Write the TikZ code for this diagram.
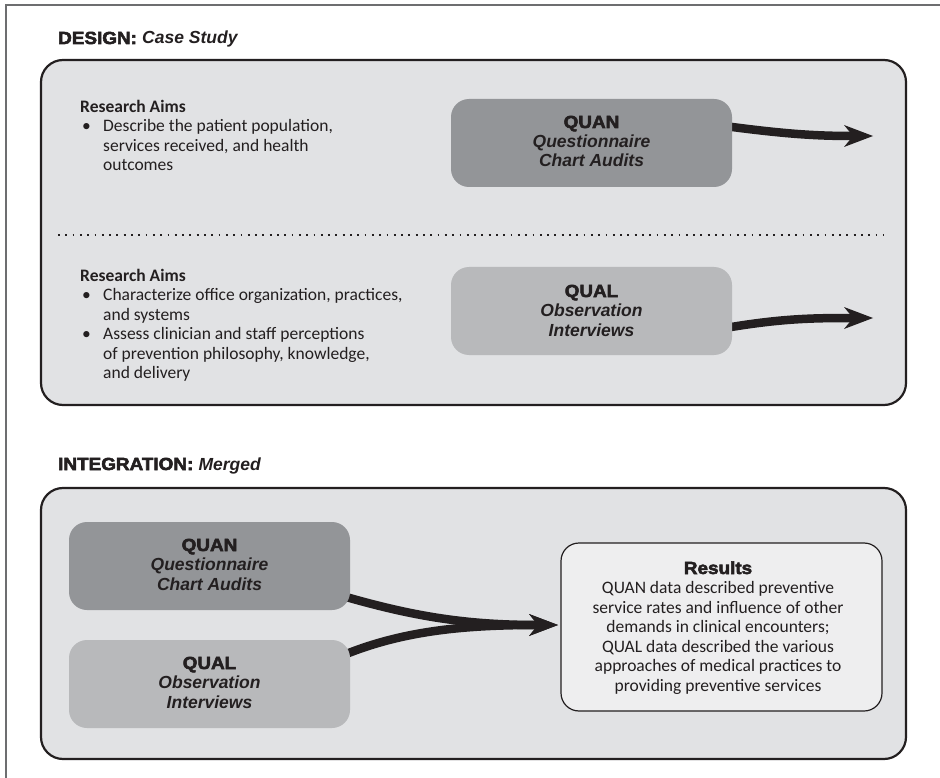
\documentclass[tikz,border=0pt]{standalone}
\usepackage{fontspec}
\setmainfont{Carlito}
\newfontfamily\hsans{Liberation Sans}
\newfontfamily\hblack[FakeBold=3,FakeStretch=1.08]{Liberation Sans Bold}
\usetikzlibrary{arrows.meta}
\definecolor{ink}{HTML}{231F20}
\definecolor{panel}{HTML}{E1E2E4}
\definecolor{quanfill}{HTML}{939598}
\definecolor{qualfill}{HTML}{B8B9BB}
\definecolor{resfill}{HTML}{EEEEEF}
\definecolor{framegray}{HTML}{6D6E70}

\pgfdeclarelayer{front}
\pgfsetlayers{main,front}

% multi-line nodes below are placed by the baseline of their last line
\tikzset{
  panelbox/.style={draw=ink, line width=2.2pt, fill=panel, rounded corners=22pt,
    inner sep=0pt, minimum width=865pt},
  methodbox/.style={rounded corners=18pt, inner sep=0pt, minimum width=281pt, minimum height=88pt},
  resultbox/.style={draw=ink, line width=1.2pt, fill=resfill, rounded corners=18pt,
    inner sep=0pt, minimum width=321pt, minimum height=168pt},
  body/.style={font=\fontsize{17.5}{19.5}\selectfont, text=ink, inner sep=0pt},
  heading/.style={font=\hblack\fontsize{17.5}{21}\selectfont, text=ink, inner sep=0pt, anchor=base west},
  boxlabel/.style={font=\hsans\bfseries\itshape\fontsize{17.5}{19.5}\selectfont, text=ink,
    inner sep=0pt, align=center, anchor=base},
  flow/.style={draw=ink, line width=8.5pt,
    -{Stealth[length=29pt,width=22pt,inset=9pt,line width=0pt]}},
}

\begin{document}
\begin{tikzpicture}[x=1pt,y=-1pt]
\useasboundingbox (0,0) rectangle (940,778);
\fill[white] (0,0) rectangle (940,778);

% page frame (top and left edges)
\draw[framegray, line width=1.5pt] (6,778) -- (6,5) -- (940,5);

% ---------------- design ----------------
\node[heading] (designhead) at (58,44)
  {DESIGN: {\normalfont\hsans\bfseries\itshape Case Study}};

\node[panelbox, minimum height=345pt] (designpanel) at (473.5,232.5) {};

\draw[ink, line width=1.8pt, dash pattern=on 1.8pt off 5.5pt] (58,235) -- (883,235);

\node[body, align=left, anchor=base west] (aims1) at (80,171)
  {\textbf{Research Aims}\\
   \hspace*{2pt}\makebox[21pt][l]{\textbullet}Describe the patient population,\\
   \hspace*{23pt}services received, and health\\
   \hspace*{23pt}outcomes};

\node[body, align=left, anchor=base west] (aims2) at (80,378.5)
  {\textbf{Research Aims}\\
   \hspace*{2pt}\makebox[21pt][l]{\textbullet}Characterize office organization, practices,\\
   \hspace*{23pt}and systems\\
   \hspace*{2pt}\makebox[21pt][l]{\textbullet}Assess clinician and staff perceptions\\
   \hspace*{23pt}of prevention philosophy, knowledge,\\
   \hspace*{23pt}and delivery};

\coordinate (quanend) at (873,136);
\coordinate (qualend) at (873,318);

\begin{pgfonlayer}{front}
\node[methodbox, fill=quanfill] (quanA) at (591.5,143) {};
\node[methodbox, fill=qualfill] (qualA) at (591.5,311) {};
\node[boxlabel] (quanAtext) at (591.5,167)
  {{\normalfont\hblack QUAN}\\Questionnaire\\Chart Audits};
\node[boxlabel] (qualAtext) at (591.5,336)
  {{\normalfont\hblack QUAL}\\Observation\\Interviews};
\end{pgfonlayer}

\draw[flow] ([xshift=-4pt,yshift=16.5pt]quanA.east) .. controls +(54,7) and +(-60,0) .. (quanend);
\draw[flow] ([xshift=-4pt,yshift=-16.5pt]qualA.east) .. controls +(54,-9) and +(-60,0) .. (qualend);

% ---------------- integration ----------------
\node[heading] (integhead) at (58,470)
  {INTEGRATION: {\normalfont\hsans\bfseries\itshape Merged}};

\node[panelbox, minimum height=271pt] (integpanel) at (473.5,623.5) {};

\node[resultbox] (results) at (721.5,627) {};
\node[body, align=center, anchor=base] (resultstext) at (718,691)
  {{\hblack Results}\\
   QUAN data described preventive\\
   service rates and influence of other\\
   demands in clinical encounters;\\
   QUAL data described the various\\
   approaches of medical practices to\\
   providing preventive services};

\coordinate (mergeend) at (558,625);

\begin{pgfonlayer}{front}
\node[methodbox, fill=quanfill] (quanB) at (209.5,566) {};
\node[methodbox, fill=qualfill] (qualB) at (209.5,684) {};
\node[boxlabel] (quanBtext) at (209.5,590)
  {{\normalfont\hblack QUAN}\\Questionnaire\\Chart Audits};
\node[boxlabel] (qualBtext) at (209.5,708)
  {{\normalfont\hblack QUAL}\\Observation\\Interviews};
\end{pgfonlayer}

\draw[flow] ([xshift=-4pt,yshift=-31pt]quanB.east) .. controls +(70,20) and +(-90,0) .. (mergeend);
\draw[flow] ([xshift=-4pt,yshift=30pt]qualB.east) .. controls +(60,-24) and +(-90,0) .. (mergeend);
\end{tikzpicture}
\end{document}
